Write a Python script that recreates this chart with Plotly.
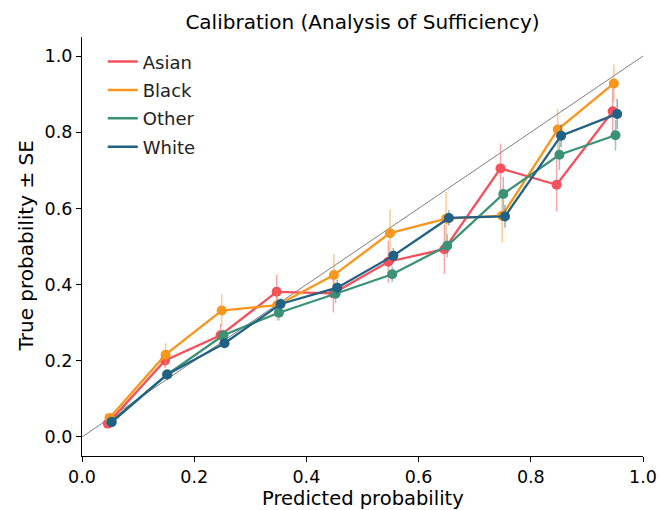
import plotly.graph_objects as go

groups = ["Asian", "Black", "Other", "White"]
colors = ["#f4515c", "#f8961e", "#3b9277", "#216183"]
err_colors = ["rgba(244,81,92,0.5)", "rgba(248,150,30,0.5)", "rgba(59,146,119,0.5)", "rgba(33,97,131,0.5)"]

asian_x = [0.046, 0.148, 0.247, 0.347, 0.448, 0.546, 0.646, 0.746, 0.846, 0.946]
asian_y = [0.035, 0.201, 0.267, 0.381, 0.377, 0.460, 0.493, 0.705, 0.662, 0.855]
asian_se = [0.008, 0.020, 0.030, 0.045, 0.050, 0.055, 0.065, 0.065, 0.070, 0.060]

black_x = [0.049, 0.149, 0.249, 0.348, 0.449, 0.549, 0.649, 0.749, 0.848, 0.948]
black_y = [0.050, 0.216, 0.332, 0.346, 0.425, 0.535, 0.573, 0.581, 0.807, 0.928]
black_se = [0.008, 0.030, 0.042, 0.040, 0.055, 0.062, 0.070, 0.070, 0.055, 0.050]

other_x = [0.052, 0.152, 0.252, 0.351, 0.452, 0.553, 0.651, 0.751, 0.851, 0.951]
other_y = [0.040, 0.164, 0.267, 0.326, 0.376, 0.427, 0.502, 0.638, 0.741, 0.792]
other_se = [0.005, 0.010, 0.015, 0.020, 0.025, 0.020, 0.030, 0.045, 0.040, 0.040]

white_x = [0.053, 0.152, 0.254, 0.354, 0.455, 0.555, 0.654, 0.754, 0.854, 0.954]
white_y = [0.039, 0.164, 0.246, 0.349, 0.392, 0.476, 0.575, 0.579, 0.791, 0.848]
white_se = [0.003, 0.006, 0.010, 0.015, 0.020, 0.020, 0.020, 0.030, 0.030, 0.040]

diag = [0.0, 1.0]
tick_vals = [0.0, 0.2, 0.4, 0.6, 0.8, 1.0]
tick_text = ["0.0", "0.2", "0.4", "0.6", "0.8", "1.0"]

series = [
    (asian_x, asian_y, asian_se),
    (black_x, black_y, black_se),
    (other_x, other_y, other_se),
    (white_x, white_y, white_se),
]

FONT = "DejaVu Sans"
W, H = 660, 510
ML, MR, MT, MB = 82, 17, 37, 54

fig = go.Figure()

fig.add_trace(go.Scatter(x=diag, y=diag, mode="lines",
                         line=dict(color="#808080", width=1), showlegend=False, hoverinfo="skip"))

for name, col, ecol, (xs, ys, se) in zip(groups, colors, err_colors, series):
    fig.add_trace(go.Scatter(
        x=xs, y=ys, mode="lines+markers", name=name, showlegend=False,
        line=dict(color=col, width=2.3),
        marker=dict(color=col, size=10),
        error_y=dict(type="data", array=se, visible=True, color=ecol, thickness=1.5, width=0),
    ))

for name, col in zip(groups, colors):
    fig.add_trace(go.Scatter(x=[None], y=[None], mode="lines", name=name, legendgroup=name,
                             line=dict(color=col, width=2.5)))

axis_common = dict(
    showgrid=False, zeroline=False, showline=True, linecolor="black", linewidth=1.2,
    ticks="outside", ticklen=5, tickcolor="black", tickwidth=1.2,
    tickfont=dict(family=FONT, size=17.5, color="black"),
    tickvals=tick_vals, ticktext=tick_text, mirror=False, automargin=False,
)

fig.update_layout(
    width=W, height=H,
    margin=dict(l=ML, r=MR, t=MT, b=MB),
    paper_bgcolor="white", plot_bgcolor="white",
    title=dict(text="Calibration (Analysis of Sufficiency)", x=0.5, xref="paper", xanchor="center",
               y=1 - 22 / H, yanchor="middle",
               font=dict(family=FONT, size=20, color="black")),
    xaxis=dict(range=[0, 1], **axis_common),
    yaxis=dict(range=[-0.05, 1.05], **axis_common),
    legend=dict(x=0.037, y=0.985, xanchor="left", yanchor="top",
                font=dict(family=FONT, size=18, color="#222222"),
                bgcolor="rgba(255,255,255,0)", borderwidth=0, tracegroupgap=2),
    showlegend=True,
    annotations=[
        dict(text="Predicted probability", xref="paper", yref="paper", x=0.5, y=0,
             xanchor="center", yanchor="middle", yshift=-(498.5 - (H - MB)), showarrow=False,
             font=dict(family=FONT, size=19.5, color="black")),
        dict(text="True probability ± SE", xref="paper", yref="paper", x=0, y=0.5,
             xanchor="center", yanchor="middle", xshift=-(ML - 25), textangle=-90, showarrow=False,
             font=dict(family=FONT, size=20, color="black")),
    ],
)

fig.write_html("out.html")
